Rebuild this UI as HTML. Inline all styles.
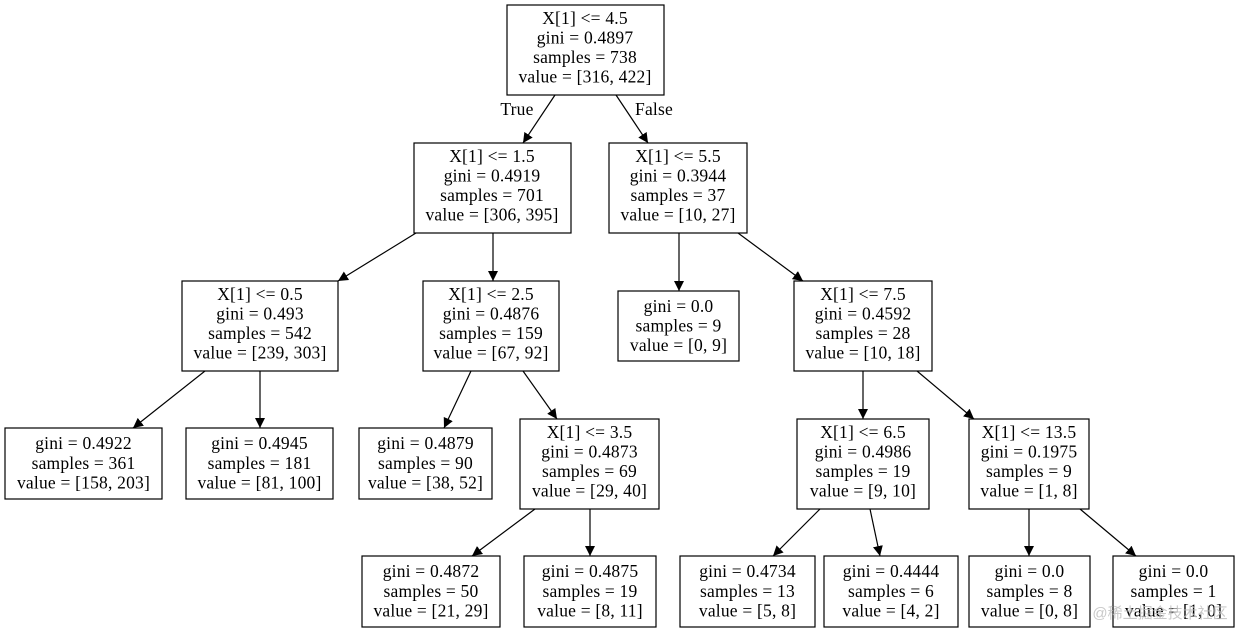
<!DOCTYPE html>
<html><head><meta charset="utf-8"><style>
html,body{margin:0;padding:0;background:#fff;width:1240px;height:633px;overflow:hidden}
svg text{font-family:"Liberation Serif",serif;font-size:17.5px;letter-spacing:0.2px;fill:#000;text-anchor:middle}
rect{fill:#fff;stroke:#000;stroke-width:1.2}
line{stroke:#000;stroke-width:1.2}
</style></head><body>
<svg width="1240" height="633" viewBox="0 0 1240 633">
<defs><marker id="a" viewBox="0 0 10 10" refX="10" refY="5" markerWidth="10" markerHeight="10" markerUnits="userSpaceOnUse" orient="auto"><path d="M0,0 L10,5 L0,10 z" fill="#000"/></marker></defs>
<g marker-end="url(#a)">
<line x1="555" y1="95" x2="523" y2="143"/>
<line x1="616" y1="95" x2="648" y2="143"/>
<line x1="416" y1="233" x2="338" y2="281"/>
<line x1="493" y1="233" x2="493" y2="281"/>
<line x1="679" y1="233" x2="679" y2="291"/>
<line x1="738" y1="233" x2="803" y2="281"/>
<line x1="205" y1="371" x2="133" y2="428"/>
<line x1="260" y1="371" x2="260" y2="428"/>
<line x1="471" y1="371" x2="444" y2="428"/>
<line x1="523" y1="371" x2="557" y2="419"/>
<line x1="863" y1="371" x2="863" y2="419"/>
<line x1="917" y1="371" x2="974" y2="419"/>
<line x1="535" y1="509" x2="472" y2="556"/>
<line x1="590" y1="509" x2="590" y2="556"/>
<line x1="820" y1="509" x2="773" y2="556"/>
<line x1="870" y1="509" x2="880" y2="556"/>
<line x1="1029" y1="509" x2="1029" y2="556"/>
<line x1="1080" y1="509" x2="1136" y2="556"/>
</g>
<text x="517" y="115">True</text><text x="654" y="115">False</text>

<rect x="507" y="5" width="157" height="90"/>
<text x="585" y="24">X[1] &lt;= 4.5</text><text x="585" y="43.5">gini = 0.4897</text><text x="585" y="63">samples = 738</text><text x="585" y="82.5">value = [316, 422]</text>

<rect x="414" y="143" width="157" height="90"/>
<text x="492" y="162">X[1] &lt;= 1.5</text><text x="492" y="181.5">gini = 0.4919</text><text x="492" y="201">samples = 701</text><text x="492" y="220.5">value = [306, 395]</text>

<rect x="609" y="143" width="138" height="90"/>
<text x="678" y="162">X[1] &lt;= 5.5</text><text x="678" y="181.5">gini = 0.3944</text><text x="678" y="201">samples = 37</text><text x="678" y="220.5">value = [10, 27]</text>

<rect x="182" y="281" width="156" height="90"/>
<text x="260" y="300">X[1] &lt;= 0.5</text><text x="260" y="319.5">gini = 0.493</text><text x="260" y="339">samples = 542</text><text x="260" y="358.5">value = [239, 303]</text>

<rect x="423" y="281" width="136" height="90"/>
<text x="491" y="300">X[1] &lt;= 2.5</text><text x="491" y="319.5">gini = 0.4876</text><text x="491" y="339">samples = 159</text><text x="491" y="358.5">value = [67, 92]</text>

<rect x="618" y="291" width="121" height="70"/>
<text x="678.5" y="312">gini = 0.0</text><text x="678.5" y="331.5">samples = 9</text><text x="678.5" y="351">value = [0, 9]</text>

<rect x="794" y="281" width="138" height="90"/>
<text x="863" y="300">X[1] &lt;= 7.5</text><text x="863" y="319.5">gini = 0.4592</text><text x="863" y="339">samples = 28</text><text x="863" y="358.5">value = [10, 18]</text>

<rect x="5" y="428" width="157" height="71"/>
<text x="83.5" y="449">gini = 0.4922</text><text x="83.5" y="469">samples = 361</text><text x="83.5" y="488.5">value = [158, 203]</text>

<rect x="186" y="428" width="147" height="71"/>
<text x="259.5" y="449">gini = 0.4945</text><text x="259.5" y="469">samples = 181</text><text x="259.5" y="488.5">value = [81, 100]</text>

<rect x="359" y="428" width="133" height="71"/>
<text x="425.5" y="449">gini = 0.4879</text><text x="425.5" y="469">samples = 90</text><text x="425.5" y="488.5">value = [38, 52]</text>

<rect x="520" y="419" width="139" height="90"/>
<text x="589.5" y="438">X[1] &lt;= 3.5</text><text x="589.5" y="457.5">gini = 0.4873</text><text x="589.5" y="477">samples = 69</text><text x="589.5" y="496.5">value = [29, 40]</text>

<rect x="797" y="419" width="132" height="90"/>
<text x="863" y="438">X[1] &lt;= 6.5</text><text x="863" y="457.5">gini = 0.4986</text><text x="863" y="477">samples = 19</text><text x="863" y="496.5">value = [9, 10]</text>

<rect x="969" y="419" width="120" height="90"/>
<text x="1029" y="438">X[1] &lt;= 13.5</text><text x="1029" y="457.5">gini = 0.1975</text><text x="1029" y="477">samples = 9</text><text x="1029" y="496.5">value = [1, 8]</text>

<rect x="362" y="556" width="138" height="71"/>
<text x="431" y="577">gini = 0.4872</text><text x="431" y="597">samples = 50</text><text x="431" y="616.5">value = [21, 29]</text>

<rect x="524" y="556" width="132" height="71"/>
<text x="590" y="577">gini = 0.4875</text><text x="590" y="597">samples = 19</text><text x="590" y="616.5">value = [8, 11]</text>

<rect x="680" y="556" width="135" height="71"/>
<text x="747.5" y="577">gini = 0.4734</text><text x="747.5" y="597">samples = 13</text><text x="747.5" y="616.5">value = [5, 8]</text>

<rect x="824" y="556" width="134" height="71"/>
<text x="891" y="577">gini = 0.4444</text><text x="891" y="597">samples = 6</text><text x="891" y="616.5">value = [4, 2]</text>

<rect x="969" y="556" width="121" height="71"/>
<text x="1029.5" y="577">gini = 0.0</text><text x="1029.5" y="597">samples = 8</text><text x="1029.5" y="616.5">value = [0, 8]</text>

<rect x="1113" y="556" width="121" height="71"/>
<text x="1173.5" y="577">gini = 0.0</text><text x="1173.5" y="597">samples = 1</text><text x="1173.5" y="616.5">value = [1, 0]</text>
<text x="1160" y="618" style="font-family:'Liberation Sans','Noto Sans CJK SC',sans-serif;font-size:15px;letter-spacing:0;fill:#bbb;fill-opacity:0.8">@稀土掘金技术社区</text>
</svg>
</body></html>
